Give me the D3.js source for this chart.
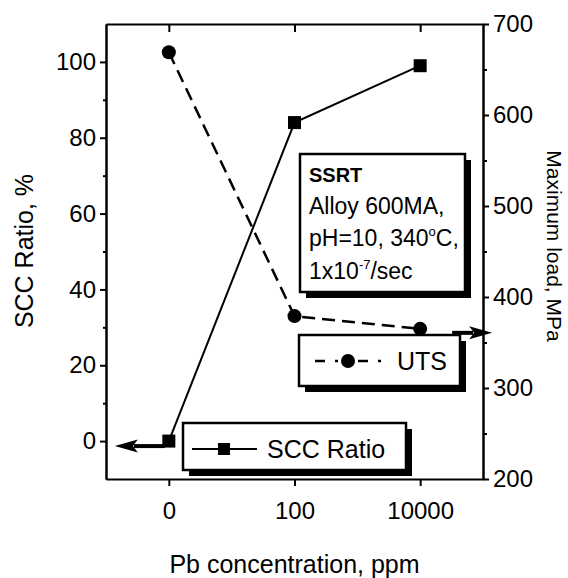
<!DOCTYPE html>
<html>
<head>
<meta charset="utf-8">
<script src="https://cdn.jsdelivr.net/npm/d3@7"></script>
<style>
  body { margin: 0; background: #fff; }
  svg { display: block; font-family: 'Liberation Sans', Arial, Helvetica, sans-serif; }
</style>
</head>
<body>
<svg id="chart" width="568" height="578"></svg>
<script>
// Data
const categories = ['0', '100', '10000'] // Pb concentration, ppm
const sccRatio = [0, 84, 99] // SCC Ratio, %
const uts = [669, 379, 365] // Maximum load, MPa
const leftTicks = [0, 20, 40, 60, 80, 100]
const leftMinor = [10, 30, 50, 70, 90]
const rightTicks = [200, 300, 400, 500, 600, 700]
const rightMinor = [250, 350, 450, 550, 650]
const noteLines = ['SSRT', 'Alloy 600MA,', 'pH=10, 340|o|C,', '1x10|-7|/sec']

const dim = { left: 106, right: 483, top: 24, bottom: 479 }
const svg = d3.select('#chart')

let x = d3.scalePoint().domain(categories).range([dim.left, dim.right]).padding(0.5)
let yL = d3.scaleLinear().domain([-10, 110]).range([dim.bottom, dim.top])
let yR = d3.scaleLinear().domain([200, 700]).range([dim.bottom, dim.top])

drawAxes()
drawSeries()
drawArrows()
drawNote()
drawLegends()
drawLabels()

function styleAxis (g) {
  g.selectAll('.domain').attr('stroke', '#000').attr('stroke-width', 2)
  g.selectAll('.tick line').attr('stroke', '#000').attr('stroke-width', 2)
  g.selectAll('.tick text').attr('font-size', 24).attr('fill', '#000')
  g.attr('font-family', null)
}

function drawAxes () {
  // left (SCC ratio)
  svg.append('g').attr('transform', `translate(${dim.left},0)`)
    .call(d3.axisLeft(yL).tickValues(leftTicks).tickSize(6).tickPadding(4).tickSizeOuter(0))
    .call(styleAxis)
  svg.append('g').attr('transform', `translate(${dim.left},0)`)
    .call(d3.axisLeft(yL).tickValues(leftMinor).tickSize(3).tickFormat('').tickSizeOuter(0))
    .call(styleAxis)
  // right (maximum load)
  svg.append('g').attr('transform', `translate(${dim.right},0)`)
    .call(d3.axisRight(yR).tickValues(rightTicks).tickSize(6).tickPadding(4).tickSizeOuter(0))
    .call(styleAxis)
  svg.append('g').attr('transform', `translate(${dim.right},0)`)
    .call(d3.axisRight(yR).tickValues(rightMinor).tickSize(4).tickFormat('').tickSizeOuter(0))
    .call(styleAxis)
  // bottom and top
  svg.append('g').attr('transform', `translate(0,${dim.bottom})`)
    .call(d3.axisBottom(x).tickSize(7).tickPadding(16).tickSizeOuter(0))
    .call(styleAxis)
  svg.append('g').attr('transform', `translate(0,${dim.top})`)
    .call(d3.axisTop(x).tickSize(-8).tickFormat('').tickSizeOuter(0))
    .call(styleAxis)
}

function drawSeries () {
  let scc = categories.map((c, i) => ({ c, v: sccRatio[i] }))
  let load = categories.map((c, i) => ({ c, v: uts[i] }))

  svg.append('path').datum(scc)
    .attr('fill', 'none').attr('stroke', '#000').attr('stroke-width', 2)
    .attr('d', d3.line().x(d => x(d.c)).y(d => yL(d.v)))
  svg.append('path').datum(load)
    .attr('fill', 'none').attr('stroke', '#000').attr('stroke-width', 2.5)
    .attr('stroke-dasharray', '13,7')
    .attr('d', d3.line().x(d => x(d.c)).y(d => yR(d.v)))

  svg.selectAll('.sq').data(scc).join('rect')
    .attr('x', d => x(d.c) - 6.5).attr('y', d => yL(d.v) - 6.5)
    .attr('width', 13).attr('height', 13).attr('fill', '#000')
  svg.selectAll('.dot').data(load).join('circle')
    .attr('cx', d => x(d.c)).attr('cy', d => yR(d.v)).attr('r', 7).attr('fill', '#000')
}

function arrow (x0, x1, y) {
  let dir = x1 > x0 ? 1 : -1
  let base = x1 - dir * 23
  svg.append('line').attr('x1', x0).attr('x2', base + dir * 4).attr('y1', y).attr('y2', y)
    .attr('stroke', '#000').attr('stroke-width', 4)
  svg.append('path')
    .attr('d', `M${x1},${y}L${base},${y - 6.5}L${base + dir * 5},${y}L${base},${y + 6.5}Z`)
    .attr('fill', '#000')
}

function drawArrows () {
  arrow(x('0') - 4, x('0') - 54, yL(sccRatio[0]) + 5)
  arrow(x('10000') + 32, x('10000') + 72, yR(uts[2]) + 4)
}

function shadowBox (x0, y0, w, h) {
  svg.append('rect').attr('x', x0 + 6).attr('y', y0 + 6).attr('width', w).attr('height', h).attr('fill', '#000')
  svg.append('rect').attr('x', x0).attr('y', y0).attr('width', w).attr('height', h)
    .attr('fill', '#fff').attr('stroke', '#000').attr('stroke-width', 2.5)
}

function drawNote () {
  shadowBox(300, 154, 165, 138)
  noteLines.forEach((line, i) => {
    let t = svg.append('text').attr('x', 309).attr('y', 182 + i * 32.2)
      .attr('font-size', i === 0 ? 20 : 23).attr('font-weight', i === 0 ? 'bold' : null)
    let parts = line.split('|')
    if (parts.length === 1) { t.text(line); return }
    t.append('tspan').text(parts[0])
    t.append('tspan').attr('dy', -10).attr('font-size', 13).text(parts[1])
    t.append('tspan').attr('dy', 10).text(parts[2])
  })
}

function drawLegends () {
  // UTS
  shadowBox(299, 335, 161, 51)
  svg.append('line').attr('x1', 315).attr('x2', 382).attr('y1', 361).attr('y2', 361)
    .attr('stroke', '#000').attr('stroke-width', 2.5).attr('stroke-dasharray', '10,10,3,20,10,10,3,10')
  svg.append('circle').attr('cx', 348).attr('cy', 361).attr('r', 7).attr('fill', '#000')
  svg.append('text').attr('x', 397).attr('y', 370).attr('font-size', 25).text('UTS')
  // SCC ratio
  shadowBox(183, 423, 223, 47)
  svg.append('line').attr('x1', 192).attr('x2', 257).attr('y1', 449).attr('y2', 449)
    .attr('stroke', '#000').attr('stroke-width', 2)
  svg.append('rect').attr('x', 218).attr('y', 443).attr('width', 12).attr('height', 12).attr('fill', '#000')
  svg.append('text').attr('x', 267).attr('y', 458).attr('font-size', 25).text('SCC Ratio')
}

function drawLabels () {
  svg.append('text').attr('transform', 'translate(33,251) rotate(-90)')
    .attr('text-anchor', 'middle').attr('font-size', 25).text('SCC Ratio, %')
  svg.append('text').attr('transform', 'translate(547,246) rotate(90)')
    .attr('text-anchor', 'middle').attr('font-size', 21).text('Maximum load, MPa')
  svg.append('text').attr('x', (dim.left + dim.right) / 2).attr('y', 573)
    .attr('text-anchor', 'middle').attr('font-size', 25).text('Pb concentration, ppm')
}
</script>
</body>
</html>
